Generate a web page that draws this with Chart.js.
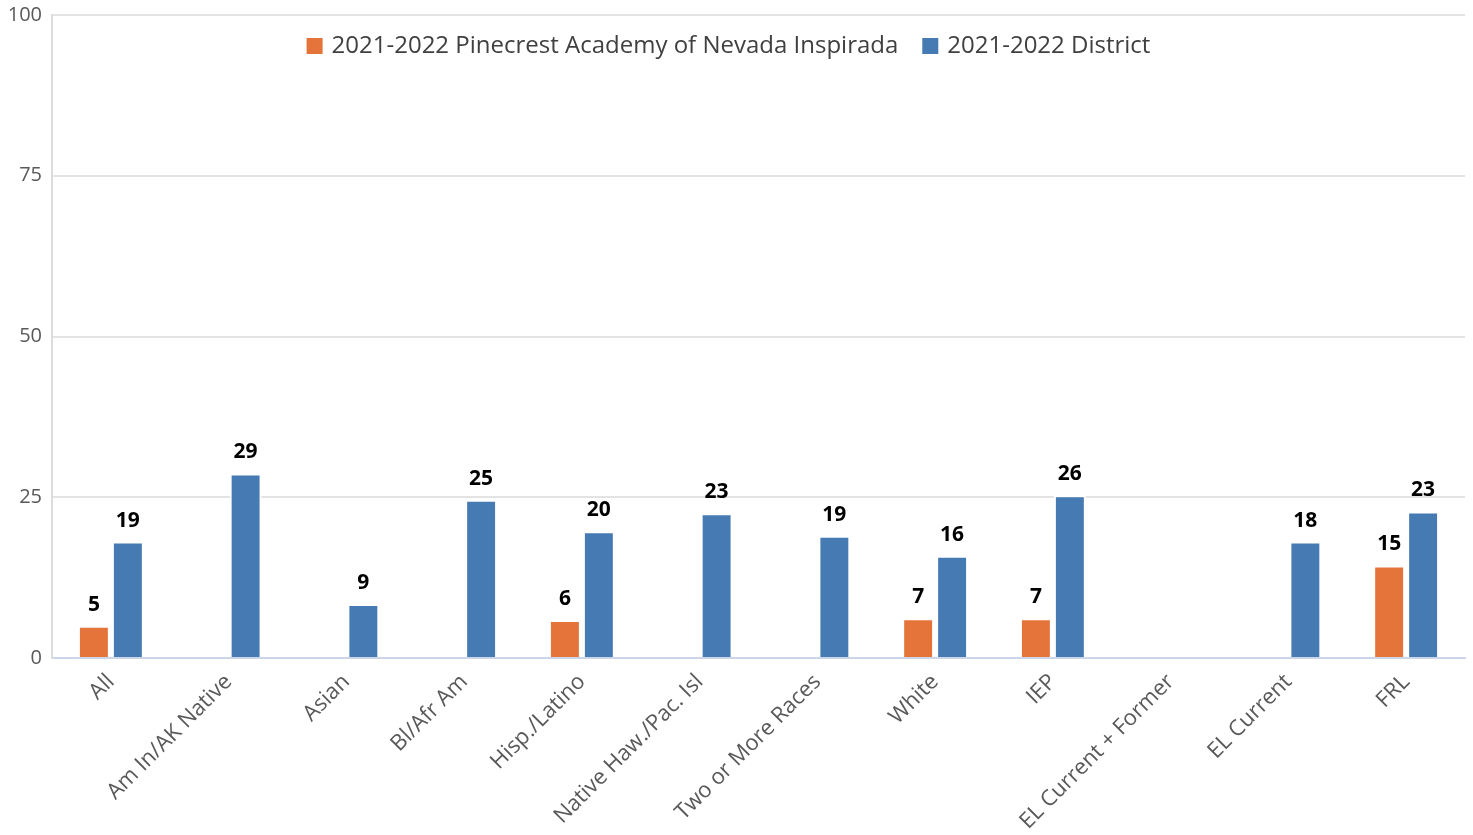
<!DOCTYPE html>
<html>
<head>
<meta charset="utf-8">
<script src="https://cdn.jsdelivr.net/npm/chart.js@4.4.1/dist/chart.umd.min.js"></script>
<style>
  body { margin: 0; background: #fff; }
  canvas { display: block; }
</style>
</head>
<body>
<canvas id="diagramme" width="1473" height="835"></canvas>
<script>
const categories = ['All', 'Am In/AK Native', 'Asian', 'Bl/Afr Am', 'Hisp./Latino', 'Native Haw./Pac. Isl',
  'Two or More Races', 'White', 'IEP', 'EL Current + Former', 'EL Current', 'FRL']

const nomsSeries = ['2021-2022 Pinecrest Academy of Nevada Inspirada', '2021-2022 District']

const valeursEcole = [5.0, null, null, null, 5.9, null, null, 6.2, 6.2, null, null, 14.4]
const valeursDistrict = [18.1, 28.7, 8.4, 24.6, 19.7, 22.5, 19.0, 15.9, 25.3, null, 18.1, 22.8]

// les etiquettes affichees ne sont pas exactement la hauteur des barres
const etiquettesEcole = [5, null, null, null, 6, null, null, 7, 7, null, null, 15]
const etiquettesDistrict = [19, 29, 9, 25, 20, 23, 19, 16, 26, null, 18, 23]

const ticksY = [0, 25, 50, 75, 100]

const couleurs = ['#E5743A', '#457AB3']
const police = '"Open Sans", "Noto Sans", sans-serif'

const etiquettesBarres = {
  id: 'etiquettesBarres',
  afterDatasetsDraw(chart) {
    const ctx = chart.ctx
    const listes = [etiquettesEcole, etiquettesDistrict]
    ctx.save()
    ctx.font = 'bold 21px ' + police
    ctx.fillStyle = '#000'
    ctx.textAlign = 'center'
    ctx.textBaseline = 'alphabetic'
    chart.data.datasets.forEach((ds, i) => {
      chart.getDatasetMeta(i).data.forEach((barre, j) => {
        const txt = listes[i][j]
        if (txt === null || ds.data[j] === null) return
        ctx.fillText(String(txt), barre.x, barre.y - 15)
      })
    })
    ctx.restore()
  }
}

const legendeInterne = {
  id: 'legendeInterne',
  afterDraw(chart) {
    const ctx = chart.ctx
    ctx.save()
    ctx.font = '24px ' + police
    ctx.textBaseline = 'middle'
    const carre = 16, ecart = 9, entre = 24
    const largeurs = chart.data.datasets.map(ds => carre + ecart + ctx.measureText(ds.label).width)
    const total = largeurs.reduce((a, b) => a + b, 0) + entre * (largeurs.length - 1)
    let x = (chart.width - total) / 2 - 8
    const y = 46
    chart.data.datasets.forEach((ds, i) => {
      ctx.fillStyle = ds.backgroundColor
      ctx.fillRect(x, y - carre / 2, carre, carre)
      ctx.fillStyle = '#404040'
      ctx.fillText(ds.label, x + carre + ecart, y)
      x += largeurs[i] + entre
    })
    ctx.restore()
  }
}

new Chart(document.getElementById('diagramme'), {
  type: 'bar',
  data: {
    labels: categories,
    datasets: [
      { label: nomsSeries[0], data: valeursEcole, backgroundColor: couleurs[0] },
      { label: nomsSeries[1], data: valeursDistrict, backgroundColor: couleurs[1] }
    ]
  },
  options: {
    responsive: false,
    animation: false,
    layout: { padding: { top: 0, right: 8, left: 0, bottom: 0 } },
    datasets: {
      bar: {
        categoryPercentage: 0.577,
        barPercentage: 0.94,
        borderColor: '#fff',
        borderWidth: 2,
        borderSkipped: 'start'
      }
    },
    plugins: {
      legend: { display: false },
      tooltip: { enabled: false }
    },
    scales: {
      x: {
        grid: { display: false },
        border: { display: true, color: '#ccd6e8', width: 2 },
        ticks: {
          color: '#595959',
          font: { family: police, size: 22 },
          minRotation: 45,
          maxRotation: 45,
          autoSkip: false,
          padding: 3
        },
        afterFit(scale) { scale.height = 177 }
      },
      y: {
        min: 0,
        max: 100,
        afterBuildTicks(scale) { scale.ticks = ticksY.map(v => ({ value: v })) },
        grid: { color: '#e3e3e3', lineWidth: 2, tickLength: 0 },
        border: { display: true, color: '#dcdcdc', width: 2 },
        ticks: {
          color: '#595959',
          font: { family: police, size: 20 },
          padding: 10
        },
        afterFit(scale) {
          scale.width = 52
          scale.paddingTop = 15
          scale.paddingBottom = 0
        }
      }
    }
  },
  plugins: [etiquettesBarres, legendeInterne]
})
</script>
</body>
</html>
